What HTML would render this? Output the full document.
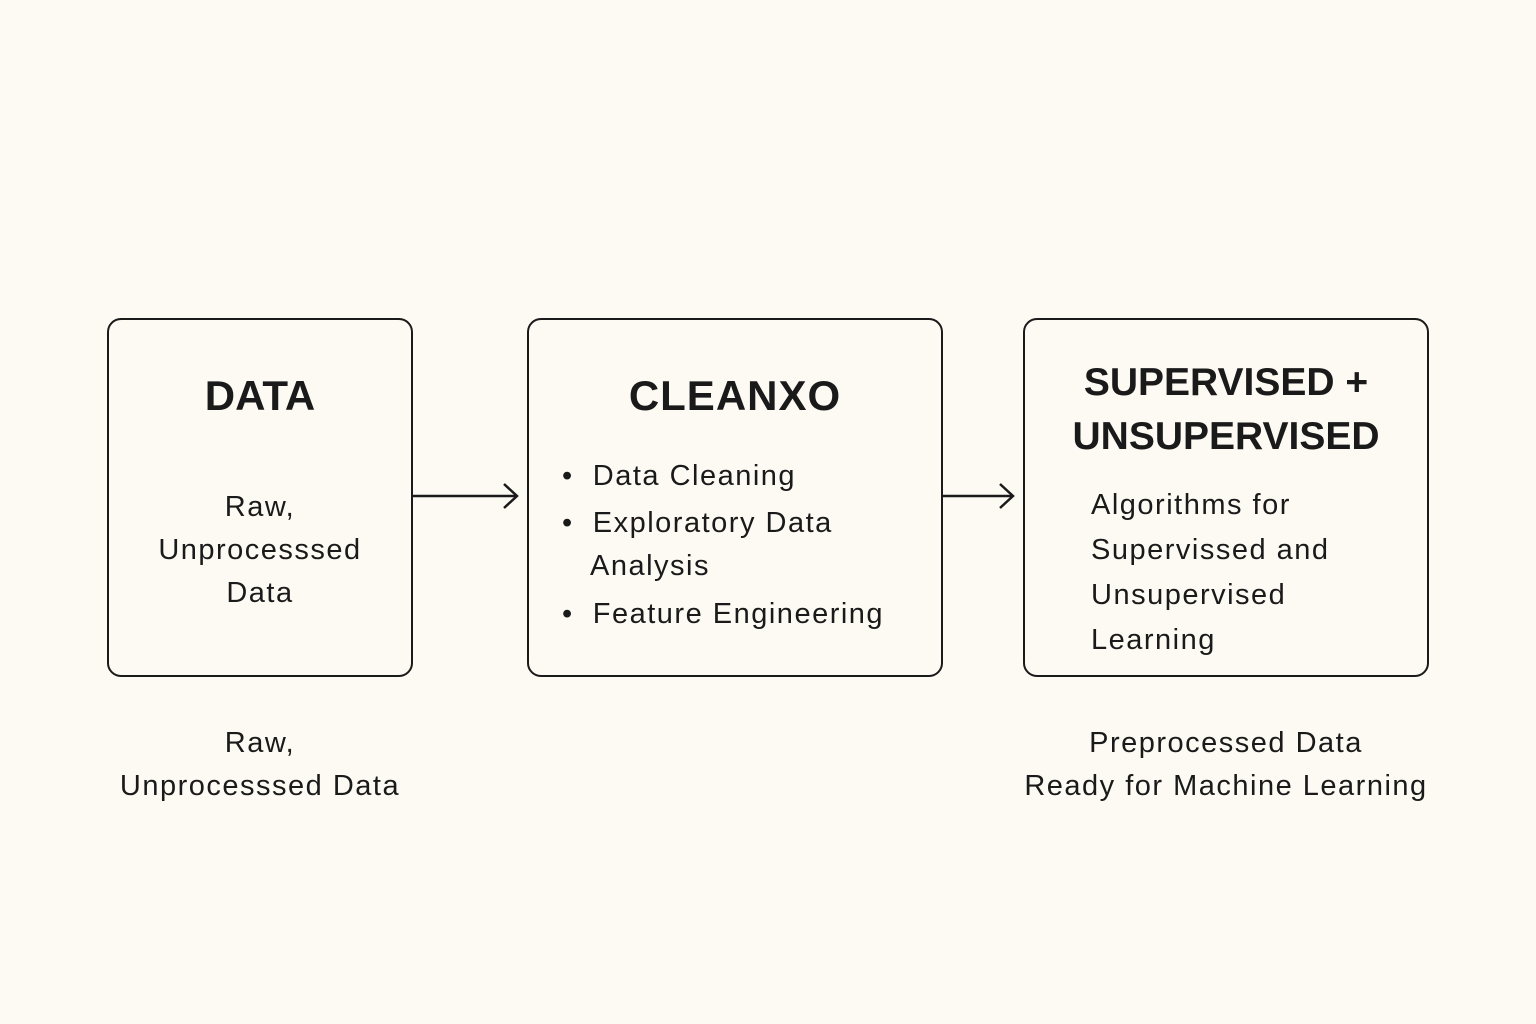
<!DOCTYPE html>
<html><head><style>
body{margin:0;width:1536px;height:1024px;background:#fdfaf3;font-family:"Liberation Sans",sans-serif;color:#1a1a1a;position:relative;overflow:hidden}
.box{position:absolute;border:2.5px solid #1a1a1a;border-radius:14px;box-sizing:border-box}
.t{position:absolute;white-space:nowrap}
.h{font-weight:bold;font-size:42px}
.n{font-size:29px;letter-spacing:1.5px}
</style></head><body>
<div class="box" style="left:107px;top:318px;width:306px;height:359px"></div>
<div class="box" style="left:527px;top:318px;width:416px;height:359px"></div>
<div class="box" style="left:1023px;top:318px;width:406px;height:359px"></div>
<div class="t h" style="left:107px;width:306px;text-align:center;top:372px">DATA</div>
<div class="t n" style="left:107px;width:306px;text-align:center;top:486px;line-height:43px">Raw,<br>Unprocesssed<br>Data</div>
<div class="t h" style="left:527px;width:416px;text-align:center;top:372px;letter-spacing:1px">CLEANXO</div>
<div class="t n" style="left:562px;top:460px">•&nbsp; Data Cleaning</div>
<div class="t n" style="left:562px;top:507px">•&nbsp; Exploratory Data</div>
<div class="t n" style="left:590px;top:550px">Analysis</div>
<div class="t n" style="left:562px;top:598px">•&nbsp; Feature Engineering</div>
<div class="t h" style="left:1023px;width:406px;text-align:center;top:356px;font-size:39px;line-height:54px">SUPERVISED +<br>UNSUPERVISED</div>
<div class="t n" style="left:1091px;top:483px;line-height:45px">Algorithms for<br>Supervissed and<br>Unsupervised<br>Learning</div>
<div class="t n" style="left:107px;width:306px;text-align:center;top:722px;line-height:43px">Raw,<br>Unprocesssed Data</div>
<div class="t n" style="left:1016px;width:420px;text-align:center;top:722px;line-height:43px">Preprocessed Data<br>Ready for Machine Learning</div>
<svg width="1536" height="1024" style="position:absolute;left:0;top:0">
<g stroke="#1a1a1a" stroke-width="2.5" fill="none">
<line x1="413" y1="496" x2="516" y2="496"/><polyline points="504,484 517,496 504,508"/>
<line x1="943" y1="496" x2="1012" y2="496"/><polyline points="1000,484 1013,496 1000,508"/>
</g></svg>
</body></html>
